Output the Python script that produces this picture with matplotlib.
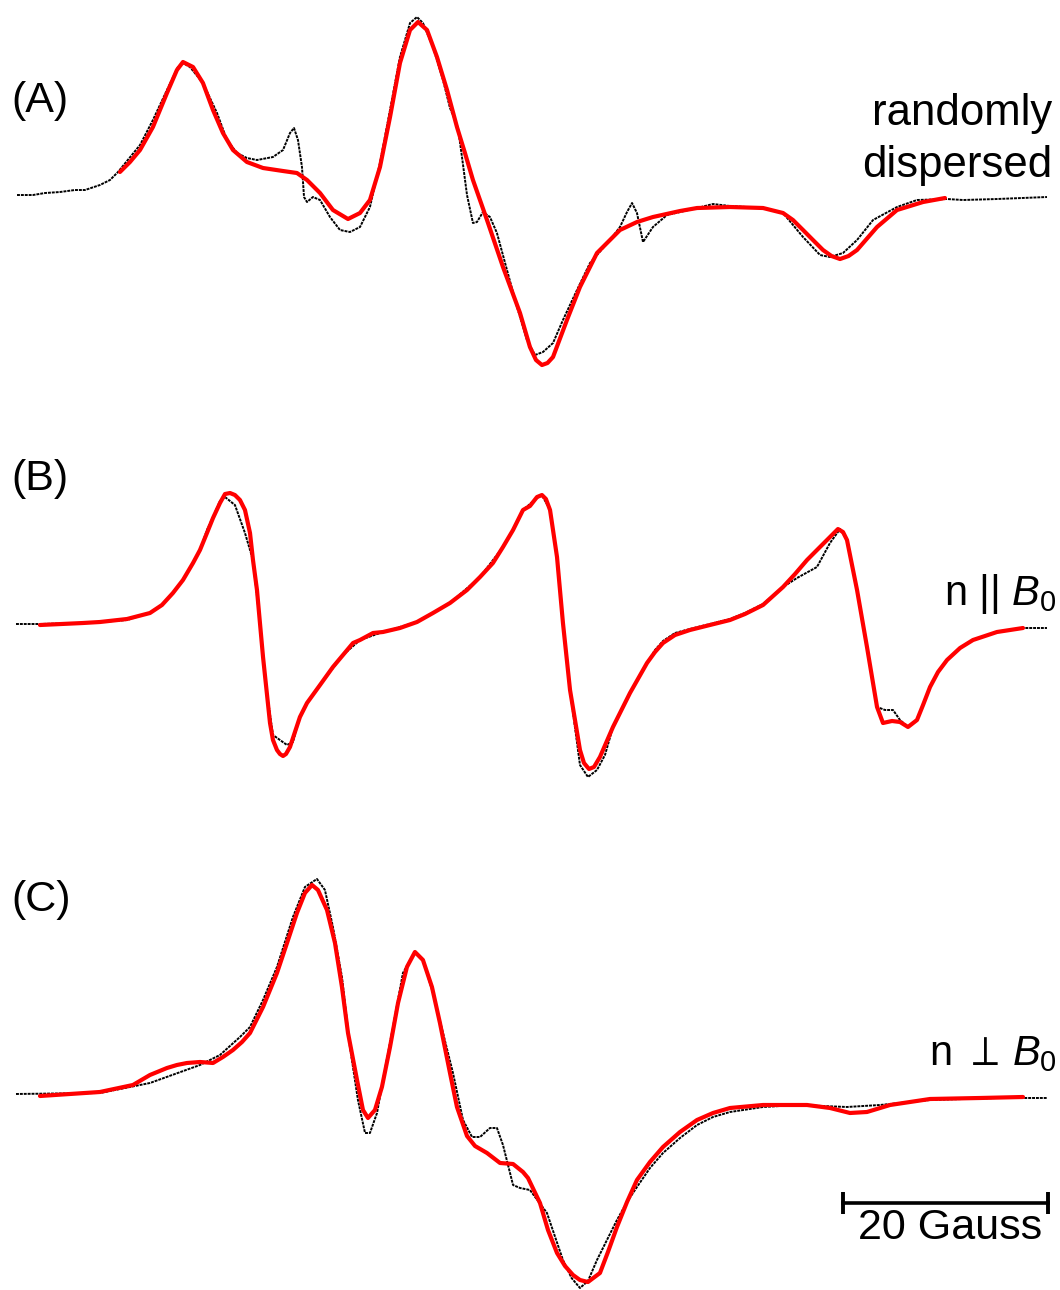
import numpy as np
import matplotlib.pyplot as plt

plt.rcParams['font.family'] = ['Liberation Sans', 'DejaVu Sans']
plt.rcParams['mathtext.fontset'] = 'custom'
plt.rcParams['mathtext.rm'] = 'Liberation Sans'
plt.rcParams['mathtext.it'] = 'Liberation Sans:italic'

# field in Gauss, signal in arbitrary units (baseline = 0)

# (A) randomly dispersed
a_exp_field = [0.20, 1.76, 2.93, 4.39, 5.85, 6.83, 8.29, 9.27, 10.05, 12.20, 13.46, 14.83, 15.90, 16.39,
               17.07, 18.34, 19.71, 20.68, 21.66, 22.63, 23.61, 25.17, 26.15, 26.83, 27.22, 27.61, 28.00,
               28.20, 28.49, 29.07, 29.76, 30.73, 31.71, 32.68, 33.66, 34.63, 35.61, 36.59, 37.56, 38.54,
               39.22, 39.80, 40.78, 41.76, 42.44, 42.93, 43.22, 43.61, 44.10, 44.68, 45.07, 45.66, 46.34,
               47.02, 48.00, 48.98, 49.95, 50.73, 51.51, 52.49, 53.46, 54.83, 56.10, 58.05, 59.02, 59.71,
               60.20, 60.68, 61.27, 62.24, 63.61, 64.88, 66.54, 68.10, 69.76, 72.98, 74.93, 76.88, 78.54,
               79.51, 80.78, 82.15, 83.71, 86.05, 88.00, 90.93, 92.49, 95.80, 100.68]
a_exp_signal = [0.02, 0.02, 0.04, 0.05, 0.07, 0.07, 0.12, 0.17, 0.25, 0.52, 0.77, 1.07, 1.30, 1.34,
                1.30, 1.14, 0.84, 0.57, 0.44, 0.39, 0.37, 0.40, 0.47, 0.64, 0.69, 0.57, 0.30,
                0.00, -0.05, 0.00, -0.03, -0.20, -0.33, -0.35, -0.30, -0.10, 0.34, 0.87, 1.40, 1.74,
                1.80, 1.74, 1.50, 1.17, 0.89, 0.77, 0.69, 0.40, 0.02, -0.26, -0.25, -0.15, -0.20,
                -0.36, -0.73, -1.10, -1.43, -1.58, -1.55, -1.46, -1.23, -0.93, -0.66, -0.43, -0.30, -0.15,
                -0.06, -0.16, -0.45, -0.30, -0.18, -0.15, -0.11, -0.07, -0.09, -0.11, -0.16, -0.40, -0.58,
                -0.60, -0.56, -0.43, -0.23, -0.10, -0.03, -0.02, -0.03, -0.02, 0.00]
a_sim_field = [10.24, 11.22, 12.20, 13.46, 14.83, 15.80, 16.39, 17.37, 18.34, 19.32, 20.29, 21.27, 22.63,
               24.20, 26.15, 27.51, 28.49, 29.76, 31.02, 32.49, 33.66, 34.63, 35.61, 36.59, 37.56, 38.54,
               39.32, 40.20, 41.17, 42.15, 43.12, 43.90, 44.68, 46.05, 47.61, 49.27, 50.24, 50.83, 51.41,
               51.95, 52.49, 53.85, 55.12, 56.78, 59.02, 60.68, 62.24, 64.88, 66.54, 69.76, 72.98, 74.93,
               75.90, 76.88, 77.85, 78.83, 79.66, 80.49, 81.32, 82.15, 84.10, 86.05, 88.59, 90.73]
a_sim_signal = [0.25, 0.35, 0.47, 0.70, 1.04, 1.27, 1.35, 1.30, 1.14, 0.87, 0.64, 0.47, 0.35,
                0.29, 0.26, 0.24, 0.17, 0.04, -0.13, -0.22, -0.16, -0.03, 0.30, 0.80, 1.34, 1.67,
                1.75, 1.67, 1.40, 1.07, 0.70, 0.44, 0.17, -0.23, -0.70, -1.16, -1.50, -1.63, -1.68,
                -1.66, -1.60, -1.23, -0.90, -0.56, -0.33, -0.25, -0.20, -0.14, -0.11, -0.10, -0.11, -0.16,
                -0.23, -0.33, -0.43, -0.53, -0.59, -0.62, -0.59, -0.53, -0.30, -0.13, -0.05, -0.01]

# (B) n || B0
b_exp_field = [0.10, 2.44, 6.63, 8.29, 10.93, 13.17, 14.34, 15.41, 16.39, 17.37, 18.05, 18.73,
               19.32, 20.00, 20.49, 21.46, 22.44, 23.22, 23.90, 24.54, 25.17, 25.85, 26.54, 27.12, 27.80,
               28.49, 29.76, 32.00, 33.66, 35.90, 39.22, 42.44, 45.37, 47.61, 48.59, 49.56, 50.93, 51.41,
               52.20, 52.88, 53.46, 54.15, 55.12, 55.90, 56.78, 57.56, 58.34, 60.00, 61.66, 62.44, 63.22,
               64.39, 65.85, 67.80, 69.76, 71.22, 72.98, 74.93, 76.29, 78.24, 79.51, 80.49, 81.17, 82.15,
               83.12, 84.10, 84.88, 85.66, 86.34, 87.12, 88.00, 88.59, 89.27, 90.05, 90.93, 92.20, 93.46,
               95.80, 98.34, 100.68]
b_exp_signal = [0.01, 0.01, 0.02, 0.03, 0.05, 0.12, 0.20, 0.32, 0.45, 0.62, 0.75, 0.95,
                1.08, 1.24, 1.28, 1.20, 0.92, 0.65, 0.02, -0.65, -1.10, -1.15, -1.20, -1.17, -0.92,
                -0.78, -0.60, -0.30, -0.15, -0.07, 0.03, 0.22, 0.48, 0.78, 0.95, 1.15, 1.27, 1.30,
                1.15, 0.68, 0.02, -0.65, -1.40, -1.52, -1.45, -1.30, -1.02, -0.68, -0.38, -0.25, -0.16,
                -0.08, -0.04, 0.01, 0.06, 0.12, 0.21, 0.38, 0.47, 0.58, 0.82, 0.96, 0.85, 0.35,
                -0.22, -0.82, -0.85, -0.85, -0.95, -1.02, -0.95, -0.80, -0.62, -0.47, -0.35, -0.23, -0.15,
                -0.07, -0.03, -0.03]
b_sim_field = [2.44, 6.63, 8.29, 10.93, 13.17, 14.34, 15.41, 16.39, 17.37, 18.05, 18.73, 19.32,
               20.00, 20.49, 20.98, 21.46, 21.95, 22.44, 22.93, 23.22, 23.61, 23.90, 24.20, 24.54, 24.88,
               25.17, 25.56, 25.85, 26.15, 26.44, 26.83, 27.80, 28.49, 29.76, 31.02, 32.00, 32.98, 33.66,
               34.93, 35.90, 37.56, 39.22, 40.78, 42.44, 44.10, 45.37, 46.63, 47.61, 48.59, 49.56, 50.24,
               50.93, 51.41, 51.80, 52.20, 52.88, 53.46, 54.15, 55.12, 55.51, 56.00, 56.49, 57.07, 58.34,
               60.00, 61.66, 62.44, 63.22, 64.39, 65.85, 67.80, 69.76, 71.22, 72.98, 74.93, 76.10, 77.27,
               78.34, 79.51, 80.29, 80.78, 81.17, 82.15, 83.12, 84.10, 84.68, 85.56, 86.34, 87.12, 88.00,
               88.59, 89.27, 90.05, 90.93, 92.20, 93.46, 95.80, 98.34]
b_sim_signal = [0.00, 0.02, 0.03, 0.06, 0.12, 0.20, 0.32, 0.45, 0.62, 0.75, 0.92, 1.07,
                1.22, 1.31, 1.32, 1.30, 1.25, 1.15, 0.92, 0.65, 0.35, 0.02, -0.32, -0.65, -0.98,
                -1.15, -1.25, -1.29, -1.31, -1.29, -1.22, -0.92, -0.78, -0.60, -0.42, -0.30, -0.18, -0.15,
                -0.08, -0.07, -0.03, 0.03, 0.12, 0.22, 0.35, 0.48, 0.62, 0.78, 0.95, 1.15, 1.19,
                1.28, 1.30, 1.26, 1.15, 0.68, 0.02, -0.65, -1.25, -1.38, -1.44, -1.42, -1.32, -1.02,
                -0.68, -0.38, -0.27, -0.18, -0.10, -0.05, 0.00, 0.05, 0.11, 0.20, 0.38, 0.51, 0.65,
                0.76, 0.88, 0.96, 0.93, 0.85, 0.35, -0.22, -0.82, -0.98, -0.96, -0.97, -1.02, -0.95,
                -0.80, -0.62, -0.47, -0.35, -0.23, -0.15, -0.07, -0.03]

# (C) n perp B0
c_exp_field = [0.10, 8.29, 13.17, 18.05, 20.00, 21.95, 22.93, 24.20, 25.56, 27.12, 28.29, 29.46, 30.24,
               31.02, 31.90, 32.68, 33.46, 34.15, 34.63, 35.32, 35.90, 36.88, 37.85, 39.02, 39.80, 40.78,
               41.76, 42.73, 43.71, 44.59, 45.37, 46.34, 47.02, 47.61, 48.10, 48.59, 49.27, 50.24, 51.90,
               53.46, 54.30, 55.12, 55.90, 56.78, 57.85, 58.73, 59.71, 60.68, 61.95, 63.22, 64.88, 66.54,
               68.10, 69.76, 72.98, 76.29, 81.17, 84.39, 89.27, 95.80, 100.68]
c_exp_signal = [0.02, 0.03, 0.13, 0.31, 0.41, 0.59, 0.69, 0.96, 1.29, 1.79, 2.09, 2.17, 2.06,
                1.69, 1.19, 0.49, -0.04, -0.37, -0.37, -0.17, 0.16, 0.69, 1.23, 1.44, 1.36, 1.03,
                0.63, 0.23, -0.24, -0.41, -0.41, -0.32, -0.32, -0.49, -0.69, -0.89, -0.92, -0.94, -1.17,
                -1.64, -1.82, -1.92, -1.85, -1.64, -1.42, -1.24, -1.06, -0.91, -0.72, -0.57, -0.42, -0.29,
                -0.21, -0.16, -0.11, -0.09, -0.11, -0.09, -0.04, -0.02, -0.02]
c_sim_field = [2.44, 8.29, 11.51, 13.17, 14.83, 15.80, 16.78, 18.05, 19.32, 20.29, 21.27, 22.15, 22.93,
               24.20, 25.56, 26.54, 27.51, 28.29, 28.98, 29.56, 30.44, 31.22, 31.90, 32.49, 33.37, 33.95,
               34.44, 35.12, 35.80, 36.59, 37.37, 38.24, 39.02, 39.80, 40.68, 41.46, 42.44, 43.12, 44.10,
               44.88, 46.05, 47.32, 48.59, 49.56, 50.05, 51.22, 52.00, 52.88, 53.66, 54.44, 55.12, 55.90,
               57.07, 57.85, 58.73, 59.71, 60.68, 61.95, 63.22, 64.88, 66.54, 68.10, 69.76, 72.98, 77.27,
               79.51, 81.46, 83.12, 85.37, 89.27, 94.15, 98.34]
c_sim_signal = [0.00, 0.04, 0.11, 0.21, 0.28, 0.31, 0.33, 0.34, 0.33, 0.39, 0.46, 0.54, 0.63,
                0.89, 1.23, 1.53, 1.83, 2.03, 2.11, 2.06, 1.86, 1.53, 1.09, 0.63, 0.16, -0.14,
                -0.22, -0.14, 0.09, 0.49, 0.93, 1.29, 1.44, 1.36, 1.09, 0.73, 0.23, -0.11, -0.40,
                -0.50, -0.57, -0.67, -0.68, -0.76, -0.82, -1.07, -1.34, -1.57, -1.70, -1.79, -1.84, -1.86,
                -1.77, -1.56, -1.31, -1.06, -0.84, -0.66, -0.51, -0.36, -0.24, -0.17, -0.12, -0.09, -0.09,
                -0.12, -0.17, -0.16, -0.09, -0.03, -0.02, -0.01]

scale_bar = (80.78, 100.78)  # 20 Gauss

fig = plt.figure(figsize=(10.6, 12.9), dpi=100)

# panel bands in figure fraction, y-limits in a.u.
ax_a = fig.add_axes([0, 0.6744, 1, 0.3256])
ax_b = fig.add_axes([0, 0.3411, 1, 0.3333])
ax_c = fig.add_axes([0, 0.0, 1, 0.3411])
ax_a.set_ylim(-2.23, 1.97)
ax_b.set_ylim(-2.25, 2.05)
ax_c.set_ylim(-1.94, 2.46)

panels = [(ax_a, a_exp_field, a_exp_signal, a_sim_field, a_sim_signal),
          (ax_b, b_exp_field, b_exp_signal, b_sim_field, b_sim_signal),
          (ax_c, c_exp_field, c_exp_signal, c_sim_field, c_sim_signal)]

for ax, xf, ys, xs, ss in panels:
    ax.plot(xf, ys, color='black', lw=1.4, ls=(0, (1.5, 0.5)), zorder=2,
            solid_joinstyle='round', dash_joinstyle='round')
    ax.plot(xs, ss, color='#ff0000', lw=3.0, zorder=3,
            solid_capstyle='round', solid_joinstyle='round')
    ax.set_xlim(-1.46, 101.95)
    ax.axis('off')

# scale bar
ax_c.plot(scale_bar, [-1.07, -1.07], color='black', lw=2.6, clip_on=False)
ax_c.plot(scale_bar, [-1.07, -1.07], color='black', ls='none', marker='|',
          markersize=16, markeredgewidth=2.8, clip_on=False)
ax_c.text(np.mean(scale_bar) + 0.4, -1.32, '20 Gauss', fontsize=31, ha='center', va='center')

# labels
fig.text(0.011, 0.922, '(A)', fontsize=31, va='center')
fig.text(0.011, 0.629, '(B)', fontsize=31, va='center')
fig.text(0.011, 0.302, '(C)', fontsize=31, va='center')
fig.text(0.993, 0.903, 'randomly', fontsize=31.5, ha='right', va='baseline')
fig.text(0.993, 0.863, 'dispersed', fontsize=31.5, ha='right', va='baseline')
fig.text(0.997, 0.531, r'n || $B_0$', fontsize=30, ha='right', va='baseline')
fig.text(0.997, 0.174, r'n $\perp\,B_0$', fontsize=30, ha='right', va='baseline')

fig.savefig('out.png', dpi=100, facecolor='white')
